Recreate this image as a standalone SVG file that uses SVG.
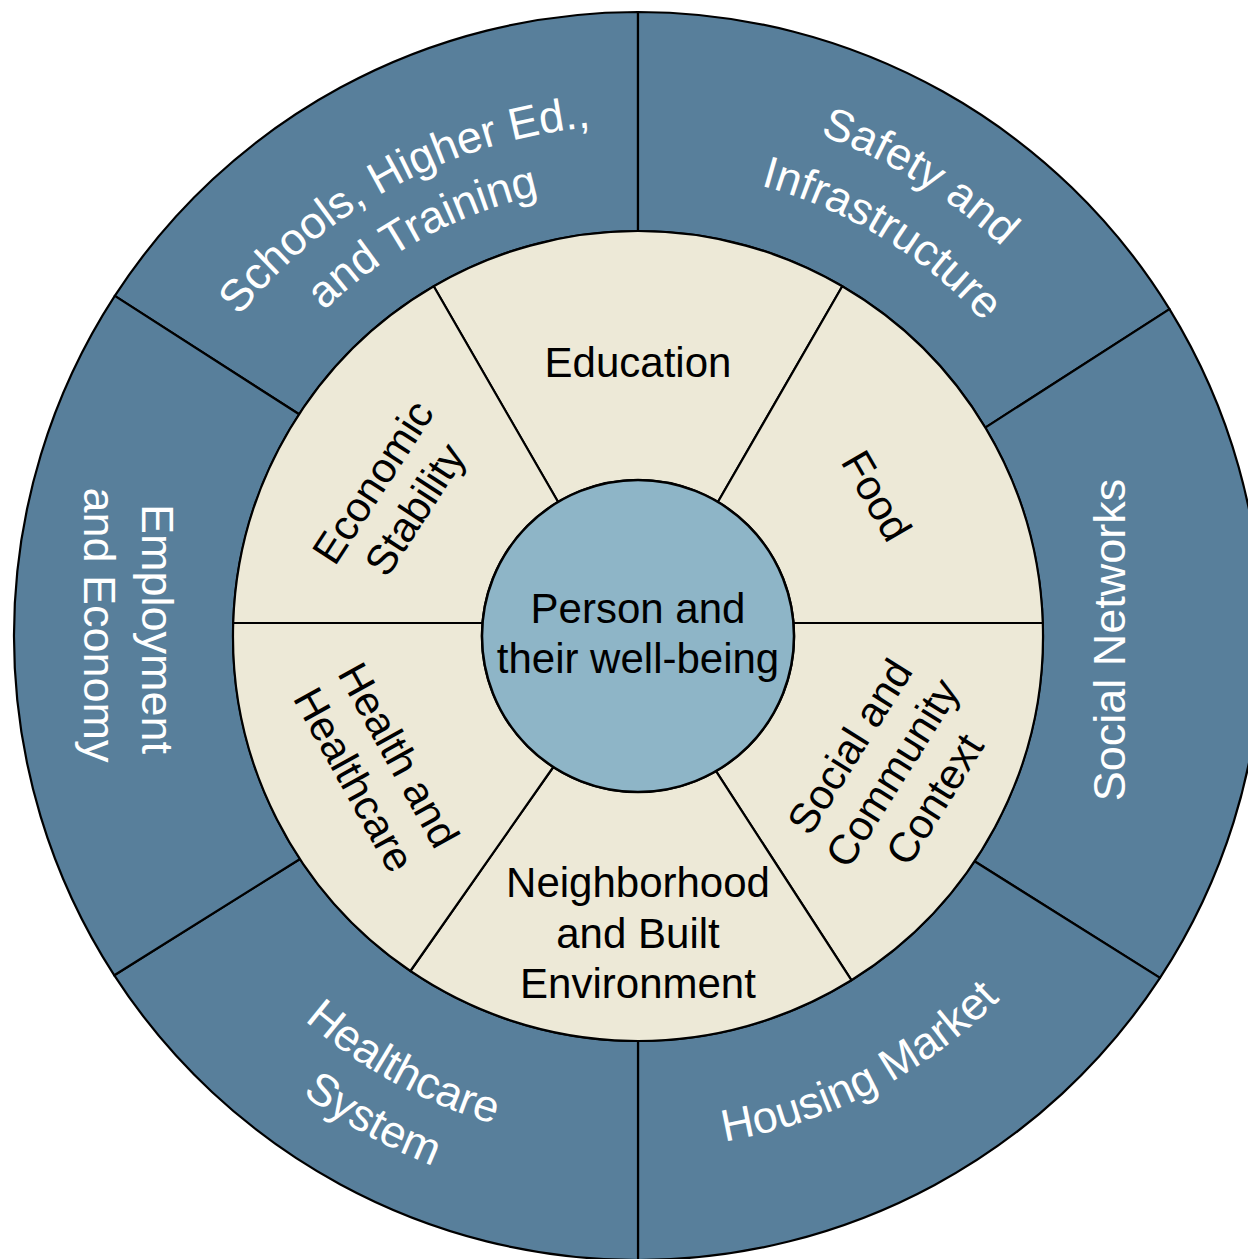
<svg xmlns="http://www.w3.org/2000/svg" xmlns:xlink="http://www.w3.org/1999/xlink" width="1248" height="1259" viewBox="0 0 1248 1259">
<defs>
<style>
.outer{fill:#587f9b;stroke:#000;stroke-width:2.2;stroke-linejoin:round}
.inner{fill:#ede9d7;stroke:#000;stroke-width:2.2;stroke-linejoin:round}
.core{fill:#8eb5c7;stroke:#000;stroke-width:2.5}
.tin{font-family:"Liberation Sans",Arial,sans-serif;font-size:42px;fill:#000;text-anchor:middle}
.tout{font-family:"Liberation Sans",Arial,sans-serif;font-size:45px;fill:#fff;text-anchor:middle}
</style>
<path id="arcSch1" d="M127.2,620.8 A511,511 0 0 1 906.5,201.2"/>
<path id="arcSch2" d="M186.2,622.6 A452,452 0 0 1 875.5,251.4"/>
<path id="arcSaf1" d="M383.7,167.6 A533,533 0 0 1 1170.8,650.0"/>
<path id="arcSaf2" d="M415.2,225.6 A467,467 0 0 1 1104.8,648.2"/>
<path id="arcHou" d="M370.0,1073.4 A513,513 0 0 0 1150.8,649.4"/>
<path id="arcHc1" d="M129.1,647.5 A509,509 0 0 0 902.4,1070.9"/>
<path id="arcHc2" d="M70.1,648.9 A568,568 0 0 0 933.1,1121.3"/>
</defs>
<rect width="1248" height="1259" fill="#fff"/>

<g id="outer-ring">
  <g id="schools">
    <path class="outer" d="M114.8,295.9 A624,624 0 0 1 638,12 L638,231 A405,405 0 0 0 299.1,414.3 Z"/>
    <text class="tout"><textPath href="#arcSch1" xlink:href="#arcSch1" startOffset="50%">Schools, Higher Ed.,</textPath></text>
    <text class="tout"><textPath href="#arcSch2" xlink:href="#arcSch2" startOffset="50%">and Training</textPath></text>
  </g>
  <g id="safety">
    <path class="outer" d="M638,12 A624,624 0 0 1 1169.5,309.1 L985.3,427.6 A405,405 0 0 0 638,231 Z"/>
    <text class="tout"><textPath href="#arcSaf1" xlink:href="#arcSaf1" startOffset="50%">Safety and</textPath></text>
    <text class="tout"><textPath href="#arcSaf2" xlink:href="#arcSaf2" startOffset="50%">Infrastructure</textPath></text>
  </g>
  <g id="social-networks">
    <path class="outer" d="M1169.5,309.1 A624,624 0 0 1 1160.0,977.9 L974.5,861.3 A405,405 0 0 0 985.3,427.6 Z"/>
    <text class="tout" transform="translate(1125,640) rotate(-90)">Social Networks</text>
  </g>
  <g id="housing">
    <path class="outer" d="M1160.0,977.9 A624,624 0 0 1 638,1260 L638,1041 A405,405 0 0 0 974.5,861.3 Z"/>
    <text class="tout"><textPath href="#arcHou" xlink:href="#arcHou" startOffset="49%">Housing Market</textPath></text>
  </g>
  <g id="healthcare-system">
    <path class="outer" d="M638,1260 A624,624 0 0 1 114.3,975.3 L300.0,859.0 A405,405 0 0 0 638,1041 Z"/>
    <text class="tout"><textPath href="#arcHc1" xlink:href="#arcHc1" startOffset="50%">Healthcare</textPath></text>
    <text class="tout"><textPath href="#arcHc2" xlink:href="#arcHc2" startOffset="50%">System</textPath></text>
  </g>
  <g id="employment">
    <path class="outer" d="M114.3,975.3 A624,624 0 0 1 114.8,295.9 L299.1,414.3 A405,405 0 0 0 300.0,859.0 Z"/>
    <text class="tout" transform="translate(142,629) rotate(90)">Employment</text>
    <text class="tout" transform="translate(84,625) rotate(90)">and Economy</text>
  </g>
</g>

<g id="inner-ring">
  <g id="education">
    <path class="inner" d="M433.7,286.3 A405,405 0 0 1 842.3,286.3 L717.9,502.0 A156,156 0 0 0 558.1,502.0 Z"/>
    <text class="tin" x="638" y="377">Education</text>
  </g>
  <g id="food">
    <path class="inner" d="M842.3,286.3 A405,405 0 0 1 1042.8,623 L793.5,623 A156,156 0 0 0 717.9,502.0 Z"/>
    <text class="tin" transform="translate(864,503) rotate(60)">Food</text>
  </g>
  <g id="social-community">
    <path class="inner" d="M1042.8,623 A405,405 0 0 1 851.4,980.2 L716,771.1 A156,156 0 0 0 793.5,623 Z"/>
    <text class="tin" transform="translate(862,754) rotate(-58)"><tspan x="0" y="0">Social and</tspan><tspan x="0" y="50">Community</tspan><tspan x="0" y="100">Context</tspan></text>
  </g>
  <g id="neighborhood">
    <path class="inner" d="M851.4,980.2 A405,405 0 0 1 410.4,971.0 L553.3,767.0 A156,156 0 0 0 716,771.1 Z"/>
    <text class="tin"><tspan x="638" y="897">Neighborhood</tspan><tspan x="638" y="948">and Built</tspan><tspan x="638" y="998">Environment</tspan></text>
  </g>
  <g id="health">
    <path class="inner" d="M410.4,971.0 A405,405 0 0 1 233.2,623 L482.5,623 A156,156 0 0 0 553.3,767.0 Z"/>
    <text class="tin" transform="translate(386,762) rotate(61)"><tspan x="0" y="0">Health and</tspan><tspan x="0" y="51">Healthcare</tspan></text>
  </g>
  <g id="economic">
    <path class="inner" d="M233.2,623 A405,405 0 0 1 433.7,286.3 L558.1,502.0 A156,156 0 0 0 482.5,623 Z"/>
    <text class="tin" transform="translate(385,490) rotate(-57)"><tspan x="0" y="0">Economic</tspan><tspan x="0" y="50">Stability</tspan></text>
  </g>
</g>

<g id="person">
  <circle class="core" cx="638" cy="636" r="156"/>
  <text class="tin"><tspan x="638" y="623">Person and</tspan><tspan x="638" y="673">their well-being</tspan></text>
</g>
</svg>
